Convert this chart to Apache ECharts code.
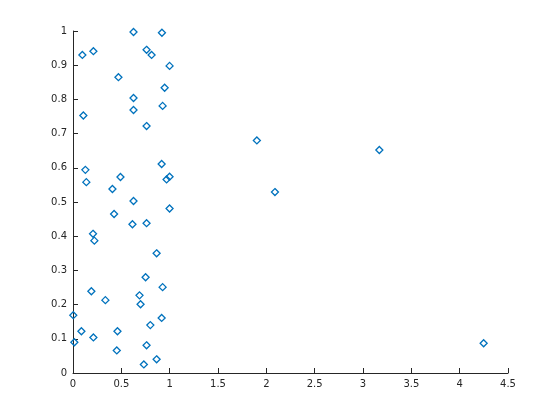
<!DOCTYPE html>
<html>
<head>
<meta charset="utf-8">
<script src="https://cdn.jsdelivr.net/npm/echarts@6/dist/echarts.min.js"></script>
<style>html,body{margin:0;padding:0;background:#fff;}#chart{width:560px;height:420px;}</style>
</head>
<body>
<div id="chart"></div>
<script>
var xValues = [0.626,0.920,0.097,0.211,0.761,0.813,0.999,0.470,0.948,0.626,0.927,0.626,0.107,0.761,0.917,0.128,0.491,0.138,0.968,0.999,0.408,
  0.626,0.999,0.425,0.615,0.761,0.207,0.221,0.865,0.751,0.927,0.190,0.335,0.688,0.699,0.003,0.917,0.800,0.087,0.460,0.211,0.014,0.761,0.453,0.865,0.733,
  1.902,3.169,2.089,4.248];
var yValues = [0.997,0.995,0.930,0.941,0.945,0.930,0.898,0.865,0.834,0.804,0.781,0.769,0.753,0.722,0.611,0.594,0.573,0.558,0.566,0.574,0.538,
  0.503,0.481,0.465,0.435,0.438,0.407,0.387,0.350,0.280,0.251,0.239,0.213,0.227,0.201,0.169,0.161,0.140,0.122,0.122,0.104,0.090,0.081,0.066,0.040,0.025,
  0.680,0.652,0.529,0.087];
var points = xValues.map(function(x, i){ return [x, yValues[i]]; });
var chart = echarts.init(document.getElementById('chart'), null, {renderer:'canvas'});
var axisCommon = {
  axisLine:{show:true, onZero:false, lineStyle:{color:'#262626', width:1}},
  axisTick:{show:true, inside:true, length:5, lineStyle:{color:'#262626', width:1}},
  splitLine:{show:false},
  axisLabel:{color:'#262626', fontFamily:'DejaVu Sans', fontSize:10}
};
chart.setOption({
  animation:false,
  backgroundColor:'#ffffff',
  grid:{left:73, right:52, top:31, bottom:47, containLabel:false},
  xAxis: Object.assign({type:'value', min:0, max:4.5, interval:0.5}, axisCommon, {axisLabel:Object.assign({}, axisCommon.axisLabel, {margin:6})}),
  yAxis: Object.assign({type:'value', min:0, max:1, interval:0.1}, axisCommon, {axisLabel:Object.assign({}, axisCommon.axisLabel, {margin:6})}),
  series:[{
    type:'scatter',
    symbol:'diamond',
    symbolSize:7,
    clip:false,
    data:points,
    itemStyle:{color:'rgba(255,255,255,0)', borderColor:'#0072BD', borderWidth:1.3, opacity:1},
    emphasis:{disabled:true}
  }]
});
</script>
</body>
</html>
